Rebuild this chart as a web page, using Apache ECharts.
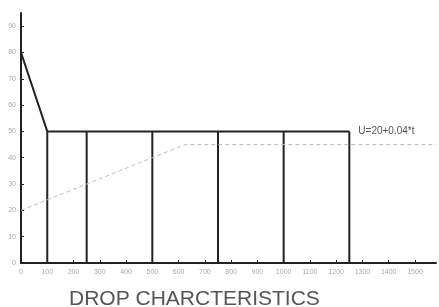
<!DOCTYPE html>
<html><head><meta charset="utf-8">
<script src="https://cdn.jsdelivr.net/npm/echarts@6/dist/echarts.min.js"></script>
<style>html,body{margin:0;padding:0;background:#fff}#c{width:439px;height:307px}</style>
</head><body><div id="c"></div>
<script>
// Data
const peakPoint = [0, 80];
const levelU = 50;
const levelStart = 100;
const levelEnd = 1250;
const partitionTimes = [100, 250, 500, 750, 1000, 1250];
const rampLine = [[0, 20], [625, 45], [1580, 45]];
const rampLabel = 'U=20+0.04*t';
const xTickLabels = ['0','100','200','300','400','500','600','700','800','900','1000','1100','1200','1300','1400','1500'];
const yTickLabels = ['0','10','20','30','40','50','60','70','80','90'];
const chartTitle = 'DROP CHARCTERISTICS';

const chart = echarts.init(document.getElementById('c'));
const solid = {color: '#222', width: 2};
const series = [];
series.push({
  type: 'line', symbol: 'none', silent: true,
  data: [peakPoint, [levelStart, levelU], [levelEnd, levelU]],
  lineStyle: solid,
  endLabel: {show: true, formatter: rampLabel, color: '#555', fontSize: 10, fontFamily: 'Liberation Sans', distance: 9}
});
partitionTimes.forEach(t => series.push({
  type: 'line', symbol: 'none', silent: true,
  data: [[t, 0], [t, levelU]], lineStyle: solid
}));
series.push({
  type: 'line', symbol: 'none', silent: true,
  data: rampLine, lineStyle: {color: '#bbb', width: 1, type: [4, 3]}
});
chart.setOption({
  animation: false,
  title: {text: chartTitle, left: 64, top: 284, textStyle: {fontFamily: 'Liberation Sans', fontWeight: 'normal', fontSize: 21, color: '#555'}},
  grid: {left: 21, right: 3, top: 13, bottom: 44},
  xAxis: {
    type: 'value', min: 0, max: 1580, interval: 100,
    axisLine: {lineStyle: {color: '#222', width: 2}},
    axisTick: {inside: true, length: 3, lineStyle: {color: '#222'}},
    splitLine: {show: false},
    axisLabel: {showMaxLabel: false, fontSize: 7, color: '#aaa', fontFamily: 'Liberation Sans', margin: 6,
      formatter: v => xTickLabels[Math.round(v / 100)] ?? ''}
  },
  yAxis: {
    type: 'value', min: 0, max: 95, interval: 10,
    axisLine: {show: true, lineStyle: {color: '#222', width: 2}},
    axisTick: {show: true, inside: true, length: 3, lineStyle: {color: '#222'}},
    splitLine: {show: false},
    axisLabel: {showMaxLabel: false, fontSize: 7, color: '#aaa', fontFamily: 'Liberation Sans', margin: 5,
      formatter: v => yTickLabels[Math.round(v / 10)] ?? ''}
  },
  series
});
</script></body></html>
